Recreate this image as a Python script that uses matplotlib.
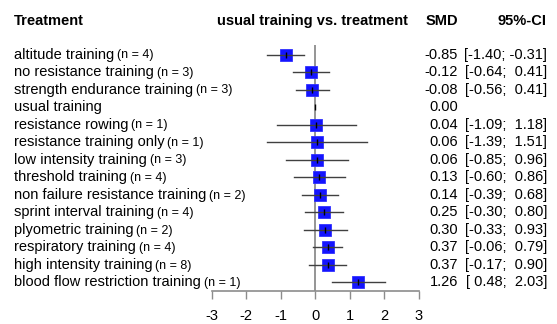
import numpy as np
import matplotlib.pyplot as plt

plt.rcParams['font.family'] = ['Liberation Sans', 'DejaVu Sans']

# comparisons against usual training
treatments = [
    "altitude training", "no resistance training", "strength endurance training",
    "usual training", "resistance rowing", "resistance training only",
    "low intensity training", "threshold training", "non failure resistance training",
    "sprint interval training", "plyometric training", "respiratory training",
    "high intensity training", "blood flow restriction training",
]
n_studies = [4, 3, 3, None, 1, 1, 3, 4, 2, 4, 2, 4, 8, 1]
smd = [-0.85, -0.12, -0.08, 0.00, 0.04, 0.06, 0.06, 0.13, 0.14, 0.25, 0.30, 0.37, 0.37, 1.26]
ci_low = [-1.40, -0.64, -0.56, np.nan, -1.09, -1.39, -0.85, -0.60, -0.39, -0.30, -0.33, -0.06, -0.17, 0.48]
ci_high = [-0.31, 0.41, 0.41, np.nan, 1.18, 1.51, 0.96, 0.86, 0.68, 0.80, 0.93, 0.79, 0.90, 2.03]
xticks = [-3, -2, -1, 0, 1, 2, 3]

W, H = 557, 324
fig = plt.figure(figsize=(W / 100, H / 100), dpi=100)
# forest panel: x from -3..3, rows top to bottom
ax = fig.add_axes([211.5 / W, 33 / H, 207 / W, 246 / H])
rows = np.arange(len(treatments))
ax.set_xlim(-3, 3)
ax.set_ylim(len(treatments) - 1 + 0.486, -0.543)

ax.axvline(0, color='#8c8c8c', lw=1.3, zorder=1)
for i in rows:
    if not np.isnan(ci_low[i]):
        ax.plot(smd[i], i, marker='s', ms=9.2, color='#1414ff',
                mec='#3030ff', mew=0.6, zorder=2)
        ax.plot([ci_low[i], ci_high[i]], [i, i], color='#404040', lw=1.0, zorder=3)
    ax.plot(smd[i], i, marker='|', ms=4, color='black', mew=1.0, zorder=4)

for s in ['top', 'left', 'right']:
    ax.spines[s].set_visible(False)
ax.spines['bottom'].set_color('#8c8c8c')
ax.spines['bottom'].set_linewidth(1.2)
ax.set_yticks([])
ax.set_xticks(xticks)
ax.set_xticklabels([str(t) for t in xticks], fontsize=10.5)
ax.tick_params(axis='x', length=6, width=1, color='#8c8c8c', pad=7)
ax.patch.set_alpha(0)

# text columns in pixel x, row y
def px(x):
    return ax.transAxes.inverted().transform(fig.transFigure.transform((x / W, 0)))[0]

tr = ax.get_yaxis_transform()
fs = 10.5
for i in rows:
    t = ax.text(px(14), i, treatments[i], transform=tr, fontsize=fs,
                ha='left', va='center', clip_on=False)
    if n_studies[i] is not None:
        ax.annotate(f"(n = {n_studies[i]})", xy=(1, 0.45), xycoords=t,
                    xytext=(2, 0), textcoords='offset points',
                    fontsize=9, ha='left', va='center')
    ax.text(px(458), i, f"{smd[i]:.2f}", transform=tr, fontsize=fs,
            ha='right', va='center', clip_on=False)
    if not np.isnan(ci_low[i]):
        ax.text(px(547), i, f"[{ci_low[i]:5.2f}; {ci_high[i]:5.2f}]", transform=tr,
                fontsize=fs, ha='right', va='center', clip_on=False)

hy = -1.914
ax.text(px(14), hy, "Treatment", transform=tr, fontsize=fs, fontweight='bold',
        ha='left', va='center', clip_on=False)
ax.text(px(312.5), hy, "usual training vs. treatment", transform=tr, fontsize=fs,
        fontweight='bold', ha='center', va='center', clip_on=False)
ax.text(px(458), hy, "SMD", transform=tr, fontsize=fs, fontweight='bold',
        ha='right', va='center', clip_on=False)
ax.text(px(547), hy, "95%-CI", transform=tr, fontsize=fs, fontweight='bold',
        ha='right', va='center', clip_on=False)

fig.savefig("out.png", dpi=100)
